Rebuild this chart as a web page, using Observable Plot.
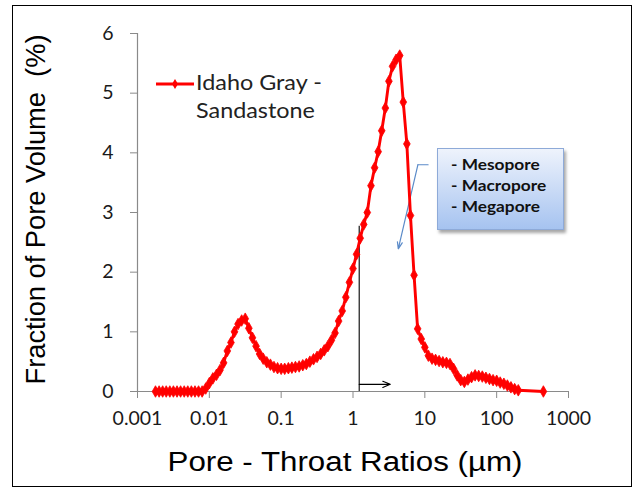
<!DOCTYPE html>
<html>
<head>
<meta charset="utf-8">
<script src="https://cdn.jsdelivr.net/npm/d3@7"></script>
<script src="https://cdn.jsdelivr.net/npm/@observablehq/plot@0.6"></script>
<style>
  body { margin: 0; background: #fff; }
  #wrap { position: relative; width: 637px; height: 489px; overflow: hidden; background: #fff; }
  #frame { position: absolute; left: 12px; top: 5px; width: 620px; height: 482px; border: 1.5px solid #000; box-sizing: border-box; pointer-events: none; }
  #legend { position: absolute; left: 155px; top: 69px; font-family: Lato, sans-serif; font-size: 20.5px; color: #222; }
  #legend svg { position: absolute; left: 0; top: 7px; }
  #legend .lbl { position: absolute; left: 41px; top: 0; line-height: 27.5px; white-space: nowrap; transform: scaleX(1.14); transform-origin: left top; }
  #callout { position: absolute; left: 437px; top: 148px; width: 127px; height: 82px; box-sizing: border-box;
    background: linear-gradient(#eef3fc, #a6c3f0); border: 1px solid #8eaad8; box-shadow: 2px 3px 3px rgba(0,0,0,0.35);
    font-family: Lato, sans-serif; font-weight: bold; font-size: 16px; color: #111; padding: 5px 0 0 13px; line-height: 20.8px; }
  #callout div { white-space: nowrap; transform: scaleX(1.08); transform-origin: left center; }
  svg g[aria-label="x-axis tick"], svg g[aria-label="y-axis tick"] { stroke: #8a8a8a; }
  svg g[aria-label="x-axis tick label"], svg g[aria-label="y-axis tick label"] { fill: #1a1a1a; }
</style>
</head>
<body>
<div id="wrap"></div>
<script>
// ---- data ----
const poreThroat = [
  0.00178, 0.00200, 0.00224, 0.00251, 0.00282, 0.00316, 0.00355, 0.00398, 0.00447, 0.00501, 0.00562, 0.00631, 0.00708, 0.00794,
  0.00891, 0.0100, 0.0112, 0.0126, 0.0141, 0.0158, 0.0178, 0.0200, 0.0224, 0.0251, 0.0282, 0.0316, 0.0355, 0.0398, 0.0447, 0.0501, 0.0562, 0.0631, 0.0708, 0.0794, 0.0891,
  0.100, 0.112, 0.126, 0.141, 0.158, 0.178, 0.200, 0.224, 0.251, 0.282, 0.316, 0.355, 0.398, 0.447, 0.501, 0.562, 0.631, 0.708, 0.794, 0.891,
  1.00, 1.12, 1.26, 1.41, 1.58, 1.78, 2.00, 2.24, 2.51, 2.82, 3.16, 3.55, 3.98, 4.47, 5.01, 5.62, 6.31, 7.08, 7.94, 8.91,
  10.0, 11.2, 12.6, 14.1, 15.8, 17.8, 20.0, 22.4, 25.1, 28.2, 31.6, 35.5, 39.8, 44.7, 50.1, 56.2, 63.1, 70.8, 79.4, 89.1,
  100, 112, 126, 141, 158, 178, 200,
  447
];
const fractionPoreVolume = [
  0, 0, 0, 0, 0, 0, 0, 0, 0, 0, 0, 0, 0, 0,
  0.05, 0.14, 0.22, 0.28, 0.36, 0.48, 0.68, 0.82, 1.00, 1.13, 1.19, 1.22, 1.06, 0.90, 0.76, 0.63, 0.55, 0.49, 0.45, 0.41, 0.39,
  0.38, 0.38, 0.39, 0.40, 0.41, 0.42, 0.44, 0.46, 0.50, 0.54, 0.58, 0.63, 0.69, 0.76, 0.86, 0.98, 1.18, 1.35, 1.58, 1.83,
  2.06, 2.30, 2.57, 2.80, 3.00, 3.45, 3.75, 4.02, 4.37, 4.75, 5.20, 5.45, 5.56, 5.63, 4.85, 4.15, 2.95, 1.95, 1.05, 0.88,
  0.74, 0.60, 0.55, 0.53, 0.51, 0.49, 0.48, 0.46, 0.38, 0.27, 0.19, 0.16, 0.20, 0.24, 0.27, 0.26, 0.25, 0.23, 0.21, 0.19,
  0.18, 0.15, 0.13, 0.10, 0.07, 0.04, 0.02,
  0
];
const seriesName = ["Idaho Gray -", "Sandastone"];
const xTicks = [0.001, 0.01, 0.1, 1, 10, 100, 1000];
const xTickLabels = ["0.001", "0.01", "0.1", "1", "10", "100", "1000"];
const yTicks = [0, 1, 2, 3, 4, 5, 6];
const yTickLabels = ["0", "1", "2", "3", "4", "5", "6"];
const xTitle = "Pore - Throat Ratios (µm)";
const yTitle = "Fraction of Pore Volume\u00A0 (%)";
const calloutLines = ["- Mesopore", "- Macropore", "- Megapore"];
// annotation anchor points (data coordinates)
const thresholdX = 1.22, thresholdTop = 2.77;
const rightArrow = [{x1: 1.22, x2: 3.3, y: 0.12}];
const pointerPath = [{x: 11.1, y: 3.80}, {x: 8.0, y: 3.80}];
const pointerArrow = [{x1: 8.0, y1: 3.80, x2: 4.27, y2: 2.39}];

const data = poreThroat.map((x, i) => ({x, y: fractionPoreVolume[i]}));

const chart = Plot.plot({
  width: 637,
  height: 489,
  marginLeft: 137,
  marginRight: 69,
  marginTop: 33,
  marginBottom: 98,
  style: {background: "transparent", overflow: "visible"},
  x: {type: "log", domain: [0.001, 1000]},
  y: {domain: [0, 6]},
  marks: [
    Plot.axisX({ticks: xTicks, tickFormat: d => xTickLabels[xTicks.indexOf(d)], tickSize: 7, tickPadding: 13,
      fontSize: 19.5, fontFamily: "Lato, sans-serif", label: null}),
    Plot.axisY({ticks: yTicks, tickFormat: d => yTickLabels[yTicks.indexOf(d)], tickSize: 7, tickPadding: 17,
      fontSize: 19.5, fontFamily: "Lato, sans-serif", label: null}),
    Plot.ruleY([0], {stroke: "#8a8a8a", strokeWidth: 1.2}),
    Plot.ruleX([0.001], {stroke: "#8a8a8a", strokeWidth: 1.2}),
    Plot.ruleX([thresholdX], {y1: 0, y2: thresholdTop, stroke: "#000", strokeWidth: 1.1}),
    Plot.arrow(rightArrow, {x1: "x1", x2: "x2", y1: "y", y2: "y", stroke: "#000", strokeWidth: 1.1, headLength: 11, headAngle: 45}),
    Plot.line(pointerPath, {x: "x", y: "y", stroke: "#5b8bc9", strokeWidth: 1.2}),
    Plot.arrow(pointerArrow, {x1: "x1", y1: "y1", x2: "x2", y2: "y2", stroke: "#5b8bc9", strokeWidth: 1.2, headLength: 9, headAngle: 40}),
    Plot.line(data, {x: "x", y: "y", stroke: "#ff0000", strokeWidth: 2.9}),
    Plot.dot(data, {x: "x", y: "y", symbol: "diamond", r: 3.5, fill: "#ff0000", stroke: "#ff0000", strokeWidth: 0.8}),
    Plot.text([yTitle], {frameAnchor: "left", textAnchor: "middle", lineAnchor: "middle", dx: -101, dy: -3, rotate: -90,
      fontSize: 28, fontFamily: "'Liberation Sans', Arial, sans-serif", fill: "#000"}),
    Plot.text([xTitle], {frameAnchor: "bottom", textAnchor: "middle", lineAnchor: "middle", dy: 71, dx: -8,
      fontSize: 27, fontFamily: "'Liberation Sans', Arial, sans-serif", fill: "#000"})
  ]
});

d3.select(chart).selectAll("text")
  .filter(function() { return this.textContent === xTitle; })
  .attr("textLength", 355).attr("lengthAdjust", "spacingAndGlyphs");
d3.select(chart).selectAll("text")
  .filter(function() { return this.textContent === yTitle; })
  .attr("textLength", 350).attr("lengthAdjust", "spacingAndGlyphs");

const wrap = document.getElementById("wrap");
wrap.appendChild(chart);

// legend
const legend = document.createElement("div");
legend.id = "legend";
legend.innerHTML = `<svg width="40" height="16"><line x1="1" y1="8" x2="39" y2="8" stroke="#ff0000" stroke-width="2.9"/>` +
  `<path d="M20,3 L23,8 L20,13 L17,8 Z" fill="#ff0000"/></svg>` +
  `<div class="lbl">${seriesName[0]}<br>${seriesName[1]}</div>`;
wrap.appendChild(legend);

// callout box
const callout = document.createElement("div");
callout.id = "callout";
callout.innerHTML = calloutLines.map(t => `<div>${t}</div>`).join("");
wrap.appendChild(callout);

const frame = document.createElement("div");
frame.id = "frame";
wrap.appendChild(frame);
</script>
</body>
</html>
